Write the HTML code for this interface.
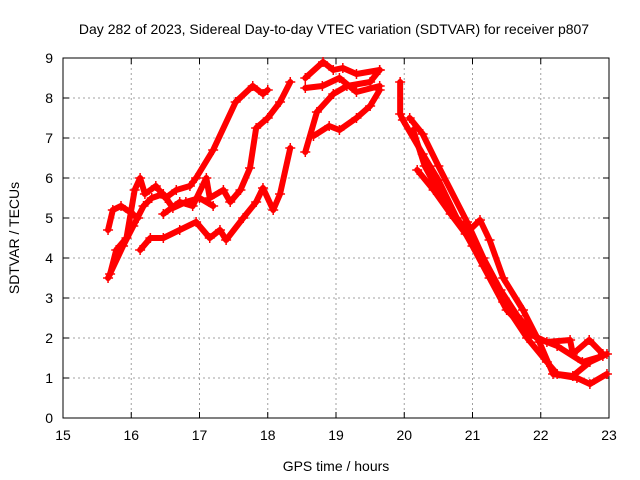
<!DOCTYPE html>
<html><head><meta charset="utf-8"><style>
body{margin:0;background:#fff}
svg{display:block;font-family:"Liberation Sans",sans-serif}
</style></head><body>
<svg id="c" width="640" height="480"></svg>
<script>
const xTicks=[15,16,17,18,19,20,21,22,23];
const yTicks=[0,1,2,3,4,5,6,7,8,9];
const trackA=[[15.69,3.6],[15.78,4.2],[15.93,4.5],[16.05,5.7],[16.13,6.0],[16.2,5.6],[16.36,5.8],[16.5,5.5],[16.66,5.7],[16.86,5.8],[16.95,6.0],[17.2,6.7],[17.53,7.9],[17.78,8.3],[17.93,8.1],[18.0,8.2]];
const trackB=[[16.13,4.2],[16.28,4.5],[16.47,4.5],[16.71,4.7],[16.95,4.9],[17.15,4.5],[17.3,4.7],[17.39,4.45],[17.64,5.0],[17.83,5.4],[17.93,5.75],[18.08,5.2],[18.18,5.6],[18.33,6.75]];
const trackC=[[16.47,5.1],[16.71,5.4],[16.9,5.3],[17.1,6.0],[17.15,5.5],[17.35,5.7],[17.45,5.4],[17.6,5.7],[17.74,6.25],[17.83,7.25],[18.0,7.5],[18.18,7.9],[18.33,8.4]];
const trackD=[[15.66,3.5],[15.88,4.3],[16.03,4.8],[16.18,5.3],[16.3,5.5],[16.47,5.6],[16.61,5.25],[16.8,5.4],[17.0,5.5],[17.2,5.3]];
const trackE=[[15.66,4.7],[15.73,5.2],[15.85,5.3],[15.98,5.15],[16.1,5.0]];
const trackF=[[18.55,6.65],[18.72,7.65],[18.96,8.1],[19.16,8.3],[19.5,8.4],[19.64,8.7]];
const trackG=[[18.55,8.5],[18.81,8.9],[18.96,8.7],[19.1,8.75],[19.3,8.6],[19.64,8.7]];
const trackH=[[18.55,8.25],[18.8,8.3],[19.05,8.5],[19.3,8.15],[19.64,8.3]];
const trackI=[[18.67,7.05],[18.9,7.3],[19.05,7.2],[19.3,7.5],[19.5,7.8],[19.64,8.2]];
const trackJ=[[19.94,8.4],[19.94,7.6],[19.98,7.45],[20.27,6.6],[20.5,5.95],[20.77,5.0],[21.0,4.3],[21.25,3.5],[21.5,2.7],[21.84,2.1],[22.09,1.9],[22.43,1.95],[22.47,1.6],[22.71,1.95],[22.91,1.6]];
const trackK=[[20.08,7.5],[20.27,7.1],[20.5,6.3],[20.92,4.9],[21.16,4.0],[21.41,3.2],[21.66,2.55],[21.94,2.0],[22.24,1.8],[22.61,1.4],[22.91,1.55]];
const trackL=[[20.19,6.2],[20.43,5.7],[20.68,5.1],[20.9,4.6],[21.11,4.95],[21.25,4.45],[21.45,3.5],[21.74,2.7],[21.98,1.9],[22.18,1.1],[22.53,1.0],[22.72,0.85],[22.97,1.1]];
const trackM=[[20.13,7.2],[20.3,6.3],[20.55,5.5],[20.86,4.8],[21.16,3.8],[21.45,2.9],[21.8,2.0],[22.09,1.4],[22.24,1.1],[22.47,1.05],[22.72,1.4],[22.97,1.6]];
const tracks=[trackA,trackB,trackC,trackD,trackE,trackF,trackG,trackH,trackI,trackJ,trackK,trackL,trackM];

const L=63,R=609,T=58,B=418;
const xs=v=>L+(v-15)/(23-15)*(R-L);
const ys=v=>B-(v-0)/(9-0)*(B-T);
const svg=document.getElementById('c');
const NS='http://www.w3.org/2000/svg';
function mk(t,a){const e=document.createElementNS(NS,t);for(const k in a)e.setAttribute(k,a[k]);svg.appendChild(e);return e;}

xTicks.forEach(v=>{
  const x=xs(v);
  if(v>15&&v<23){const g=mk('line',{x1:x,y1:T,x2:x,y2:B,stroke:'#a0a0a0','stroke-dasharray':'2,3'});
  
  }
  mk('line',{x1:x,y1:B,x2:x,y2:B-6,stroke:'#000'});
  mk('line',{x1:x,y1:T,x2:x,y2:T+6,stroke:'#000'});
  const t=mk('text',{x:x,y:B+22,'text-anchor':'middle','font-size':14});
  t.textContent=v;
  
  
});
yTicks.forEach(v=>{
  const y=ys(v);
  if(v>0&&v<9){const g=mk('line',{x1:L,y1:y,x2:R,y2:y,stroke:'#a0a0a0','stroke-dasharray':'2,3'});
  
  }
  mk('line',{x1:L,y1:y,x2:L+6,y2:y,stroke:'#000'});
  mk('line',{x1:R,y1:y,x2:R-6,y2:y,stroke:'#000'});
  const t=mk('text',{x:L-10,y:y+5,'text-anchor':'end','font-size':14});
  t.textContent=v;
  
  
});
const fr=mk('rect',{x:L,y:T,width:R-L,height:B-T,fill:'none',stroke:'#000'});



tracks.forEach(tr=>{
  const p=mk('polyline',{points:tr.map(d=>xs(d[0])+','+ys(d[1])).join(' '),fill:'none',stroke:'#ff0000','stroke-width':6,'stroke-linejoin':'round','stroke-linecap':'round'});
  
  
  tr.forEach(d=>{
    const m=mk('path',{d:`M${xs(d[0])-5},${ys(d[1])}h10M${xs(d[0])},${ys(d[1])-5}v10`,stroke:'#ff0000','stroke-width':1.5});
    
    
  });
});

const ti=mk('text',{x:334,y:34,'text-anchor':'middle','font-size':14});
ti.textContent='Day 282 of 2023, Sidereal Day-to-day VTEC variation (SDTVAR) for receiver p807';


const xt=mk('text',{x:336,y:471,'text-anchor':'middle','font-size':14});
xt.textContent='GPS time / hours';


const yt=mk('text',{x:0,y:0,'text-anchor':'middle','font-size':14,transform:'translate(19,238) rotate(-90)'});
yt.textContent='SDTVAR / TECUs';


</script>
</body></html>
